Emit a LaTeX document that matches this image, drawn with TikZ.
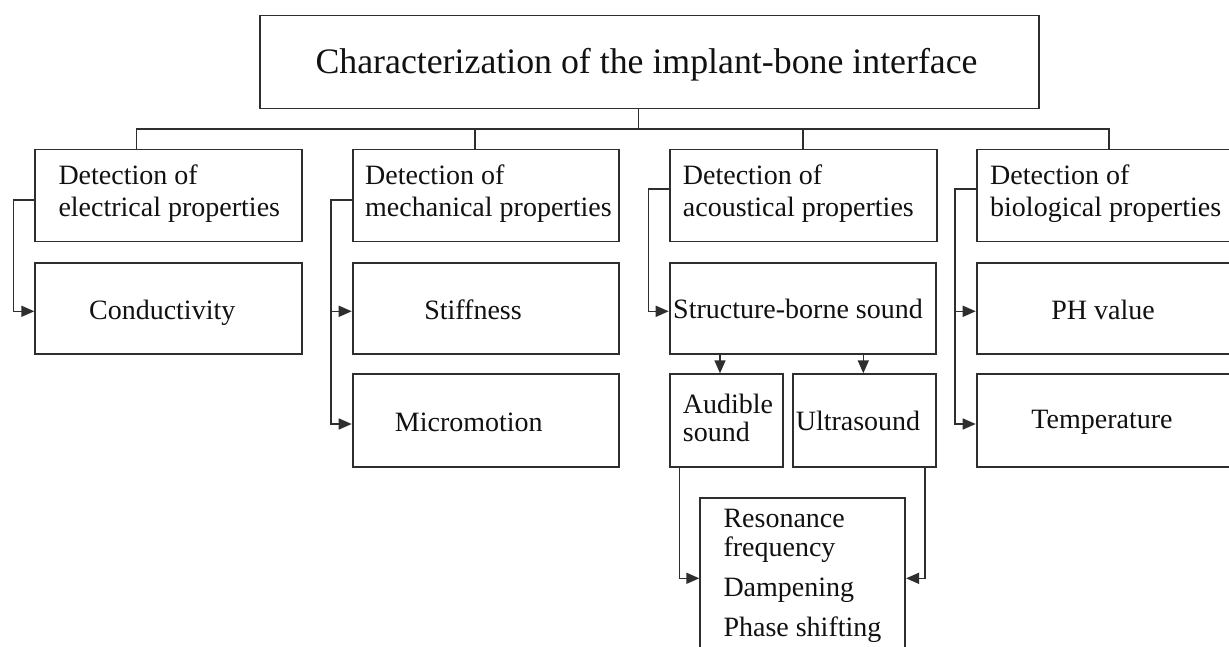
\documentclass[tikz,border=0pt]{standalone}
\usepackage{fontspec}
\setmainfont{Liberation Serif}
\usetikzlibrary{arrows.meta}
\definecolor{lncol}{HTML}{2E2E2E}
\definecolor{txcol}{HTML}{111111}
\tikzset{
  box/.style={draw=lncol, line width=1.8pt, inner sep=0pt, anchor=north west},
  conn/.style={draw=lncol, line width=1.6pt},
  arr/.style={draw=lncol, line width=1.6pt, -{Triangle[length=13pt,width=11pt]}},
  txt/.style={inner sep=0pt, text=txcol, font=\fontsize{28}{30}\selectfont},
  ttl/.style={inner sep=0pt, text=txcol, font=\fontsize{35.8}{40}\selectfont},
}
\begin{document}
\begin{tikzpicture}[x=1pt,y=-1pt]
\useasboundingbox (0,0) rectangle (1229,647);
\fill[white] (0,0) rectangle (1229,647);
\clip (0,0) rectangle (1229,647);

% top box
\node[box, minimum width=778.4pt, minimum height=93pt] (T) at (259.3,14.7) {};
\node[ttl, anchor=base] (Tt) at (646.5,73.3) {Characterization of the implant-bone interface};

% level 1
\node[box, minimum width=266.7pt, minimum height=92pt] (B1) at (34.3,148.7) {};
\node[box, minimum width=266.3pt, minimum height=92pt] (B2) at (351.7,148.7) {};
\node[box, minimum width=267pt, minimum height=92pt] (B3) at (668.7,148.7) {};
\node[box, minimum width=267pt, minimum height=92pt] (B4) at (975.7,148.7) {};
\node[txt, anchor=base west] (B1a) at (58.3,185) {Detection of};
\node[txt, anchor=base west] (B1b) at (58.3,217) {electrical properties};
\node[txt, anchor=base west] (B2a) at (365,185) {Detection of};
\node[txt, anchor=base west] (B2b) at (365,217) {mechanical properties};
\node[txt, anchor=base west] (B3a) at (682.7,185) {Detection of};
\node[txt, anchor=base west] (B3b) at (682.7,217) {acoustical properties};
\node[txt, anchor=base west] (B4a) at (990,185) {Detection of};
\node[txt, anchor=base west] (B4b) at (990,217) {biological properties};

% level 2
\node[box, minimum width=266.7pt, minimum height=91pt] (C1) at (34.3,261.7) {};
\node[box, minimum width=266pt, minimum height=91pt] (S2) at (351.7,261.7) {};
\node[box, minimum width=266.3pt, minimum height=91pt] (SB) at (668.7,261.7) {};
\node[box, minimum width=267pt, minimum height=91pt] (P4) at (975.7,261.7) {};
\node[txt, anchor=base] (C1t) at (162.2,319.3) {Conductivity};
\node[txt, anchor=base] (S2t) at (473,319.3) {Stiffness};
\node[txt, anchor=base] (SBt) at (798,318.7) {Structure-borne sound};
\node[txt, anchor=base] (P4t) at (1103,319) {PH value};

% level 3
\node[box, minimum width=266pt, minimum height=92.4pt] (M2) at (351.7,373.3) {};
\node[box, minimum width=113pt, minimum height=92.4pt] (A3) at (668.7,373.3) {};
\node[box, minimum width=143.3pt, minimum height=92.4pt] (U3) at (791.7,373.3) {};
\node[box, minimum width=267pt, minimum height=92.4pt] (T4) at (975.7,373.3) {};
\node[txt, anchor=base] (M2t) at (468.8,431.7) {Micromotion};
\node[txt, anchor=base west] (A3a) at (682.7,413.3) {Audible};
\node[txt, anchor=base west] (A3b) at (682.7,441.7) {sound};
\node[txt, anchor=base] (U3t) at (858,430.7) {Ultrasound};
\node[txt, anchor=base] (T4t) at (1102,428.3) {Temperature};

% result box
\node[box, minimum width=205pt, minimum height=170pt] (R) at (699.3,496.7) {};
\node[txt, anchor=base west] (Ra) at (723.3,527) {Resonance};
\node[txt, anchor=base west] (Rb) at (723.3,556.7) {frequency};
\node[txt, anchor=base west] (Rc) at (723.3,596.7) {Dampening};
\node[txt, anchor=base west] (Rd) at (723.3,636.7) {Phase shifting};

% tree connectors
\coordinate (top) at (638.3,129.3);
\coordinate (s1) at (136.3,129.3);
\coordinate (s2) at (474.7,129.3);
\coordinate (s3) at (803,129.3);
\coordinate (s4) at (1109,129.3);
\draw[conn] (T.south -| top) -- (top);
\draw[conn] (B1.north -| s1) -- (s1) -- (s4) -- (B4.north -| s4);
\draw[conn] (s2) -- (B2.north -| s2);
\draw[conn] (s3) -- (B3.north -| s3);

% brackets
\coordinate (k1) at (13.3,200);
\coordinate (a1) at (13.3,311.3);
\draw[arr] (k1 -| B1.west) -- (k1) -- (a1) -- (a1 -| C1.west);

\coordinate (k2) at (331,200);
\coordinate (a2) at (331,311.3);
\coordinate (b2) at (331,424);
\draw[arr] (k2 -| B2.west) -- (k2) -- (b2) -- (b2 -| M2.west);
\draw[arr] (a2) -- (a2 -| S2.west);

\coordinate (k3) at (648.3,189.3);
\coordinate (a3) at (648.3,311.3);
\draw[arr] (k3 -| B3.west) -- (k3) -- (a3) -- (a3 -| SB.west);

\coordinate (k4) at (955,189.3);
\coordinate (a4) at (955,311.3);
\coordinate (b4) at (955,424);
\draw[arr] (k4 -| B4.west) -- (k4) -- (b4) -- (b4 -| T4.west);
\draw[arr] (a4) -- (a4 -| P4.west);

% acoustic branch
\coordinate (d1) at (720,0);
\coordinate (d2) at (863.3,0);
\draw[arr] (SB.south -| d1) -- (A3.north -| d1);
\draw[arr] (SB.south -| d2) -- (U3.north -| d2);

\coordinate (r1) at (679.3,578.3);
\coordinate (r2) at (925,578.3);
\draw[arr] (A3.south -| r1) -- (r1) -- (r1 -| R.west);
\draw[arr] (U3.south -| r2) -- (r2) -- (r2 -| R.east);
\end{tikzpicture}
\end{document}
